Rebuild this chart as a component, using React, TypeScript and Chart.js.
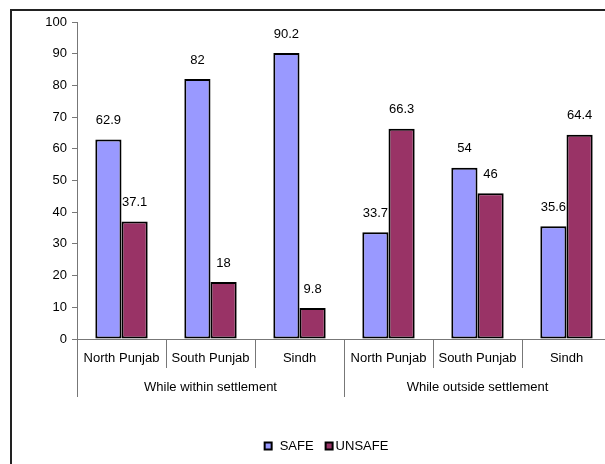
import React, { useEffect, useRef } from "react";
import { Chart, registerables } from "chart.js";

Chart.register(...registerables);

const categories = ["North Punjab", "South Punjab", "Sindh", "North Punjab", "South Punjab", "Sindh"];
const groupLabels = ["While within settlement", "While outside settlement"];
const groupSpans = [3, 3];
const safeValues = [62.9, 82, 90.2, 33.7, 54, 35.6];
const unsafeValues = [37.1, 18, 9.8, 66.3, 46, 64.4];
const seriesNames = ["SAFE", "UNSAFE"];
const yMin = 0;
const yMax = 100;
const yStep = 10;

const FONT = '"Liberation Sans", Arial, sans-serif';

const labelsBehindPlugin = {
  id: "valueLabels",
  beforeDatasetsDraw(chart: any) {
    const ctx = chart.ctx;
    ctx.save();
    ctx.font = `13px ${FONT}`;
    ctx.fillStyle = "#000";
    ctx.textAlign = "center";
    ctx.textBaseline = "middle";
    chart.data.datasets.forEach((ds: any, di: number) => {
      const meta = chart.getDatasetMeta(di);
      meta.data.forEach((bar: any, i: number) => {
        ctx.fillText(String(ds.data[i]), bar.x, bar.y - 19);
      });
    });
    ctx.restore();
  },
};

const groupedAxisPlugin = {
  id: "groupedAxis",
  afterDraw(chart: any) {
    const ctx = chart.ctx;
    const xs = chart.scales.x;
    const top = xs.top;
    const n = categories.length;
    const boundary = (i: number) => {
      if (i === 0) return xs.left;
      if (i === n) return xs.right;
      return (xs.getPixelForValue(i - 1) + xs.getPixelForValue(i)) / 2;
    };
    const groupEdges = new Set<number>([0]);
    let acc = 0;
    groupSpans.forEach((s) => {
      acc += s;
      groupEdges.add(acc);
    });
    ctx.save();
    ctx.strokeStyle = "#777";
    ctx.lineWidth = 1;
    for (let i = 0; i <= n; i++) {
      const x = Math.round(boundary(i)) + 0.5;
      const len = groupEdges.has(i) ? 58 : 29;
      ctx.beginPath();
      ctx.moveTo(x, top);
      ctx.lineTo(x, top + len);
      ctx.stroke();
    }
    ctx.font = `13px ${FONT}`;
    ctx.fillStyle = "#000";
    ctx.textAlign = "center";
    ctx.textBaseline = "middle";
    categories.forEach((c, i) => {
      ctx.fillText(c, xs.getPixelForValue(i), top + 19);
    });
    let start = 0;
    groupLabels.forEach((g, gi) => {
      const s = groupSpans[gi];
      const x = (boundary(start) + boundary(start + s)) / 2;
      ctx.fillText(g, x, top + 48);
      start += s;
    });
    ctx.restore();
  },
};

const legendPlugin = {
  id: "customLegend",
  afterDraw(chart: any) {
    const ctx = chart.ctx;
    ctx.save();
    ctx.font = `13px ${FONT}`;
    ctx.textBaseline = "middle";
    ctx.textAlign = "left";
    const box = 7;
    const gapBoxText = 3;
    const gapItems = 12;
    const items = chart.data.datasets.map((ds: any) => ({
      label: ds.label,
      color: ds.backgroundColor,
      w: box + gapBoxText + ctx.measureText(ds.label).width,
    }));
    const total = items.reduce((a: number, it: any) => a + it.w, 0) + gapItems * (items.length - 1);
    let x = 324 - total / 2;
    const y = 446;
    items.forEach((it: any, idx: number) => {
      ctx.fillStyle = it.color;
      ctx.fillRect(x, y - box / 2, box, box);
      ctx.strokeStyle = "#000";
      ctx.lineWidth = 2;
      ctx.strokeRect(x, y - box / 2, box, box);
      ctx.fillStyle = "#000";
      const tx = x + box + (idx === 0 ? 8 : gapBoxText);
      ctx.fillText(it.label, tx, y);
      x = tx + ctx.measureText(it.label).width + gapItems;
    });
    ctx.restore();
  },
};

export default function App() {
  const ref = useRef<HTMLCanvasElement | null>(null);

  useEffect(() => {
    if (!ref.current) return;
    const chart = new Chart(ref.current, {
      type: "bar",
      data: {
        labels: categories,
        datasets: [
          {
            label: seriesNames[0],
            data: safeValues,
            backgroundColor: "#9999FF",
            borderColor: "#000",
            borderWidth: 2,
            borderSkipped: false,
            categoryPercentage: 1 / 1.7,
            barPercentage: 1,
          },
          {
            label: seriesNames[1],
            data: unsafeValues,
            backgroundColor: "#993366",
            borderColor: "#000",
            borderWidth: 2,
            borderSkipped: false,
            categoryPercentage: 1 / 1.7,
            barPercentage: 1,
          },
        ],
      },
      options: {
        responsive: false,
        animation: false,
        layout: { padding: { left: 0, top: 22, right: 29, bottom: 0 } },
        plugins: {
          legend: { display: false },
          tooltip: { enabled: false },
        },
        scales: {
          x: {
            type: "category",
            grid: { display: false },
            ticks: { display: false },
            border: { display: true, color: "#777", width: 1 },
            afterFit(scale: any) {
              scale.height = 125;
            },
          },
          y: {
            min: yMin,
            max: yMax,
            ticks: {
              stepSize: yStep,
              color: "#000",
              font: { family: FONT, size: 13 },
              padding: 5,
            },
            grid: { drawOnChartArea: false, drawTicks: true, tickLength: 5, color: "#777" },
            border: { display: true, color: "#777", width: 1 },
            afterFit(scale: any) {
              scale.width = 77;
            },
          },
        },
      },
      plugins: [labelsBehindPlugin, groupedAxisPlugin, legendPlugin],
    });
    return () => chart.destroy();
  }, []);

  return (
    <div
      style={{
        position: "fixed",
        left: 0,
        top: 0,
        width: 605,
        height: 464,
        overflow: "hidden",
        background: "#fff",
      }}
    >
      <div
        style={{
          position: "absolute",
          left: 10,
          top: 9,
          width: 700,
          height: 600,
          border: "2px solid #222",
          boxSizing: "border-box",
        }}
      />
      <canvas
        ref={ref}
        width={640}
        height={464}
        style={{ position: "absolute", left: 0, top: 0, width: 640, height: 464 }}
      />
    </div>
  );
}
